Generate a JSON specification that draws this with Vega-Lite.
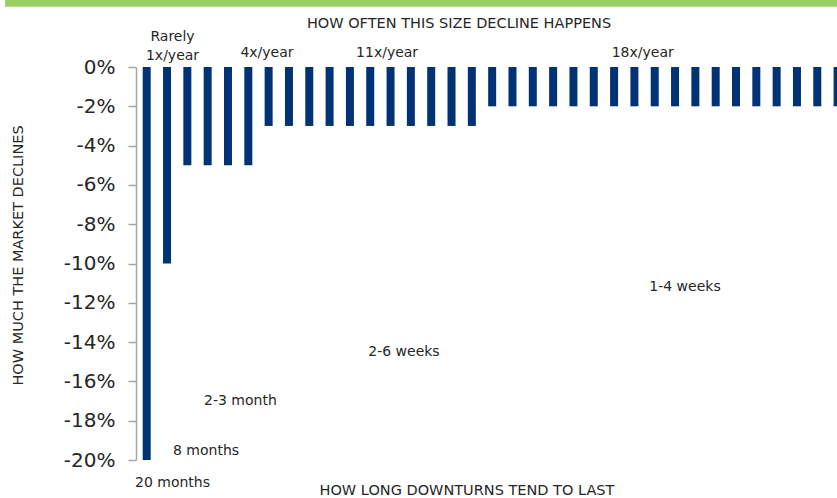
{
  "$schema": "https://vega.github.io/schema/vega-lite/v6.json",
  "autosize": "none",
  "width": 701,
  "height": 393,
  "padding": {"left": 136, "top": 67, "right": 0, "bottom": 38},
  "background": "white",
  "config": {
    "view": {"stroke": null},
    "font": "DejaVu Sans",
    "text": {"font": "DejaVu Sans", "color": "#262626"},
    "axisY": {
      "title": "HOW MUCH THE MARKET DECLINES",
      "titleFont": "DejaVu Sans",
      "titleFontSize": 14.5,
      "titleFontWeight": "normal",
      "titleColor": "#262626",
      "titlePadding": 38,
      "titleY": 188,
      "labelOverlap": false,
      "labelFont": "DejaVu Sans",
      "labelFontSize": 20,
      "labelColor": "#262626",
      "labelPadding": 13,
      "tickSize": 8,
      "tickColor": "#a6a6a6",
      "tickWidth": 1.5,
      "domainColor": "#a6a6a6",
      "domainWidth": 1.5,
      "grid": false
    }
  },
  "datasets": {
    "bars": [
      {"idx": 1, "decline": -20},
      {"idx": 2, "decline": -10},
      {"idx": 3, "decline": -5},
      {"idx": 4, "decline": -5},
      {"idx": 5, "decline": -5},
      {"idx": 6, "decline": -5},
      {"idx": 7, "decline": -3},
      {"idx": 8, "decline": -3},
      {"idx": 9, "decline": -3},
      {"idx": 10, "decline": -3},
      {"idx": 11, "decline": -3},
      {"idx": 12, "decline": -3},
      {"idx": 13, "decline": -3},
      {"idx": 14, "decline": -3},
      {"idx": 15, "decline": -3},
      {"idx": 16, "decline": -3},
      {"idx": 17, "decline": -3},
      {"idx": 18, "decline": -2},
      {"idx": 19, "decline": -2},
      {"idx": 20, "decline": -2},
      {"idx": 21, "decline": -2},
      {"idx": 22, "decline": -2},
      {"idx": 23, "decline": -2},
      {"idx": 24, "decline": -2},
      {"idx": 25, "decline": -2},
      {"idx": 26, "decline": -2},
      {"idx": 27, "decline": -2},
      {"idx": 28, "decline": -2},
      {"idx": 29, "decline": -2},
      {"idx": 30, "decline": -2},
      {"idx": 31, "decline": -2},
      {"idx": 32, "decline": -2},
      {"idx": 33, "decline": -2},
      {"idx": 34, "decline": -2},
      {"idx": 35, "decline": -2}
    ],
    "notes": [
      {"label": "Rarely", "xi": 2.27, "yv": 1.55},
      {"label": "1x/year", "xi": 2.27, "yv": 0.55},
      {"label": "4x/year", "xi": 6.92, "yv": 0.72},
      {"label": "11x/year", "xi": 12.83, "yv": 0.72},
      {"label": "18x/year", "xi": 25.41, "yv": 0.72},
      {"label": "20 months", "xi": 2.27, "yv": -21.17},
      {"label": "8 months", "xi": 3.92, "yv": -19.54},
      {"label": "2-3 month", "xi": 5.61, "yv": -17.0},
      {"label": "2-6 weeks", "xi": 13.66, "yv": -14.5},
      {"label": "1-4 weeks", "xi": 27.49, "yv": -11.2}
    ],
    "titles": [
      {"label": "HOW OFTEN THIS SIZE DECLINE HAPPENS", "xi": 16.37, "yv": 2.2},
      {"label": "HOW LONG DOWNTURNS TEND TO LAST", "xi": 16.76, "yv": -21.58}
    ]
  },
  "layer": [
    {
      "data": {"values": [{}]},
      "mark": {"type": "rect", "color": "#9ccf63"},
      "encoding": {
        "x": {"datum": -5.97, "type": "quantitative", "scale": {"domain": [0.473, 34.97], "nice": false, "zero": false, "padding": 0}, "axis": null},
        "x2": {"datum": 36},
        "y": {"datum": 3.6, "type": "quantitative", "axis": {"title": "HOW MUCH THE MARKET DECLINES", "values": [0, -2, -4, -6, -8, -10, -12, -14, -16, -18, -20], "labelExpr": "datum.value + '%'", "labelOverlap": false}},
        "y2": {"datum": 3.07}
      }
    },
    {
      "data": {"name": "bars"},
      "mark": {"type": "bar", "color": "#003376", "size": 8, "orient": "vertical", "clip": true},
      "encoding": {
        "x": {"field": "idx", "type": "quantitative", "scale": {"domain": [0.473, 34.97], "nice": false, "zero": false, "padding": 0}, "axis": null},
        "y": {
          "field": "decline",
          "type": "quantitative",
          "scale": {"domain": [-20, 0], "nice": false, "padding": 0},
          "axis": {"title": "HOW MUCH THE MARKET DECLINES", "values": [0, -2, -4, -6, -8, -10, -12, -14, -16, -18, -20], "labelExpr": "datum.value + '%'", "labelOverlap": false}
        }
      }
    },
    {
      "data": {"name": "notes"},
      "mark": {"type": "text", "fontSize": 14, "align": "center", "baseline": "middle", "color": "#262626"},
      "encoding": {
        "x": {"field": "xi", "type": "quantitative", "axis": null},
        "y": {"field": "yv", "type": "quantitative", "axis": {"title": "HOW MUCH THE MARKET DECLINES", "values": [0, -2, -4, -6, -8, -10, -12, -14, -16, -18, -20], "labelExpr": "datum.value + '%'", "labelOverlap": false}},
        "text": {"field": "label"}
      }
    },
    {
      "data": {"name": "titles"},
      "mark": {"type": "text", "fontSize": 14.5, "align": "center", "baseline": "middle", "color": "#262626"},
      "encoding": {
        "x": {"field": "xi", "type": "quantitative", "axis": null},
        "y": {"field": "yv", "type": "quantitative", "axis": {"title": "HOW MUCH THE MARKET DECLINES", "values": [0, -2, -4, -6, -8, -10, -12, -14, -16, -18, -20], "labelExpr": "datum.value + '%'", "labelOverlap": false}},
        "text": {"field": "label"}
      }
    }
  ]
}
